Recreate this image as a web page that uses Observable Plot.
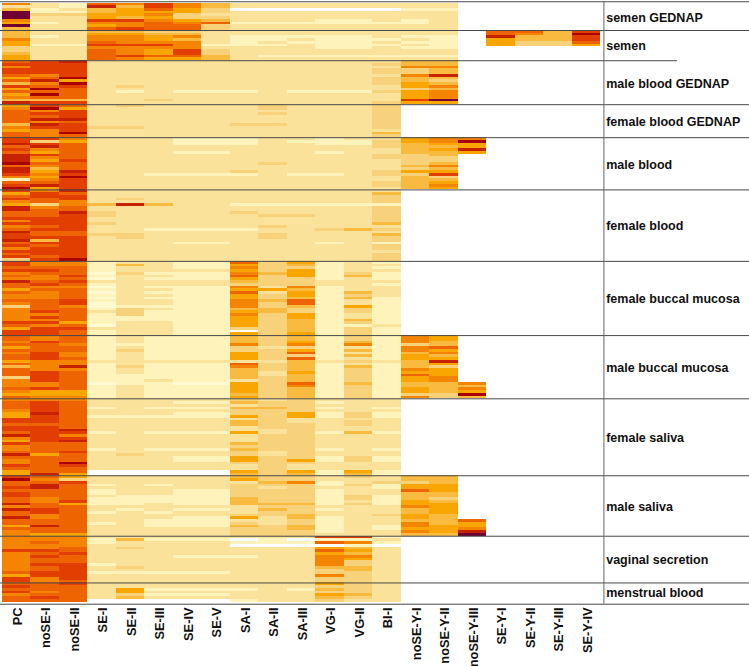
<!DOCTYPE html>
<html>
<head>
<meta charset="utf-8">
<script src="https://cdn.jsdelivr.net/npm/d3@7"></script>
<script src="https://cdn.jsdelivr.net/npm/@observablehq/plot@0.6"></script>
<style>html,body{margin:0;padding:0;background:#fff}svg{display:block}</style>
</head>
<body>
<div id="chart"></div>
<script>
const columnNames = ["PC","noSE-I","noSE-II","SE-I","SE-II","SE-III","SE-IV","SE-V","SA-I","SA-II","SA-III","VG-I","VG-II","BI-I","noSE-Y-I","noSE-Y-II","noSE-Y-III","SE-Y-I","SE-Y-II","SE-Y-III","SE-Y-IV"];
const groupNames = ["semen GEDNAP","semen","male blood GEDNAP","female blood GEDNAP","male blood","female blood","female buccal mucosa","male buccal mucosa","female saliva","male saliva","vaginal secretion","menstrual blood"];
const groupRows = [10,11,16,12,19,26,27,23,28,22,17,7];

// Each column: one string per sample group, one character per sample (expression level).
// A string shorter than its group holds its last level for the remaining samples; "." = not measured.
const PC = ["624bbb65b4","44465533455","7868875748575649","567777746577","889787999a79986178a","85786599778686798897868783","887867697757667636666687588","77675767757477736667657","6777655887887965866797668755","8a77878877969779775766","66666866666667588","7878677"];
const noSE_I = ["2211322122","22122122222","8888867967a7a748","8a6879698666","8389658657645656795","68877367778887877848788878","667876678676667777868686888","66877788866668888668556","6888898887888888777757777779","7679977766778866779775","66766878778778866","7776787"];
const noSE_II = ["1121322222","22222122222","988888a5a8777748","7588897888a7","65777777877798a8888","9788667798888887788888888a","667778787677778867777757877","77767766766967777777556","67777777777986897778777a8775","5387777778577777777775","66667787778888887","8777777"];
const SE_I = ["7944558657","45667867777","2","2222222232","2","222224223322322232","1111z1z21z1z1z1zz121111z211","11111111121111111z1","2221221222221222221222222200","2221211211122122212222","21122222221221222","2222220"];
const SE_II = ["6455548668","45666866686","2222222223212","3222222232","2","2223292222222222332","242232222222222213331122222","2221232222232211112","2222221222222222222232222200","2222222111121222222222","24223222222321222","2255340"];
const SE_III = ["8875656777","34556865575","2222222222222232","2","222222222222212","2222242222222212","22221212212121221211112","111111111211111121","2221221222221222221222222200","2221222111222122111222","212222222222212","2212120"];
const SE_IV = ["6655335677","34646668875","22222222222122","2","111221222222212","222222222222221222212","1112111221","11111111121111111z1","2121211222221222221221122200","2222211111121221111222","212222212222212","2212120"];
const SE_V = ["4433234733","22222123344","22222222222122","2","111221222222212","222222222222221222212","1112111221","11111111121111111z1","2121211222221222221221122200","2222211111121221111222","212222212222212","2212120"];
const SA_I = ["2202222122","22111122222","22222222222122","222222232","111222222222312","2222212232222212","756567543657556664565555305","44463355527644442555545","3424335244225222434335532254","4523333344422235234333","201022212","2212221"];
const SA_II = ["2202222122","22112122212","2","332322232","22222222232","2222212223222322332","333343333252334334433","3333233332333223","2334333333322333333223","3343233333434332223333","21102","2"];
const SA_III = ["2202222122","22121222212","22222222222122","2","212222222222212","22222122232","543555333645547743355444445","44563573744445444764","3333355223333333333333532254","3363333333433344334433","20102","22122"];
const VG_I = ["2202221122","22111112212","22222222222122","2","111221222222212","222221222222223222212","1111111221","11111111121","2121211222221222221221122211","2211211111121221111112","81705756666433633","5343543"];
const VG_II = ["2202221122","22111112212","22222222222122","2","2112","2222212222222242","2222342222243422533224313","3346242423243333343","2222233233224222222223322254","322322233232","81614546533443","3333432"];
const BI_I = ["2202222122","22212122212","2323323332232223","333333333243","2333223322223322332","24333133333342324331332333","1212111212222111111111121","11111111121","2221211222221222221221122211","2231122111122232221122","12102","2"];
const noSE_Y_I = ["2212221122","22121212212","4463364455355585",".","5544443333435344444",".",".","66636645544465755445536",".","4435574445564455466564",".","."];
const noSE_Y_II = ["2212222222","22111112212","44644943464666b5",".","6654544334645834565",".",".","55447564595355566444433",".","4445554434555544445554",".","."];
const noSE_Y_III = [".",".",".",".","6a5595.",".",".",".................6465a4",".","................75569b",".","."];
const SE_Y_I = [".","779555.",".",".",".",".",".",".",".",".",".","."];
const SE_Y_II = [".","764433.",".",".",".",".",".",".",".",".",".","."];
const SE_Y_III = [".","444433.",".",".",".",".",".",".",".",".",".","."];
const SE_Y_IV = [".","8a8875.",".",".",".",".",".",".",".",".",".","."];
const columnValues = [PC,noSE_I,noSE_II,SE_I,SE_II,SE_III,SE_IV,SE_V,SA_I,SA_II,SA_III,VG_I,VG_II,BI_I,noSE_Y_I,noSE_Y_II,noSE_Y_III,SE_Y_I,SE_Y_II,SE_Y_III,SE_Y_IV];

const levels = ["0","z","1","2","3","4","5","6","7","8","9","a","b"];
const levelColors = ["#ffffff","#fffad2","#fef3ba","#fbe29b","#f8d27b","#f9bb3f","#f9a603","#f58500","#ed6400","#e13e00","#c62200","#a80000","#6f0032"];

const groupStart = [];
groupRows.reduce((s, n, i) => (groupStart[i] = s, s + n), 0);
const totalRows = d3.sum(groupRows);

const cells = [];
columnValues.forEach((col, c) => {
  col.forEach((text, g) => {
    for (let i = 0; i < groupRows[g]; i++) {
      const level = text[Math.min(i, text.length - 1)];
      if (level !== ".") cells.push({col: c, row: groupStart[g] + i, level});
    }
  });
});

const separators = groupStart.slice(1).filter(s => s !== groupStart[2]);
const plot = Plot.plot({
  width: 749,
  height: 666,
  marginTop: 0, marginLeft: 0, marginRight: 0, marginBottom: 62,
  style: {background: "#fff"},
  x: {domain: [0, 21], range: [1.5, 600]},
  y: {domain: [0, totalRows], range: [2.5, 601.7], axis: null},
  color: {type: "ordinal", domain: levels, range: levelColors},
  marks: [
    Plot.rect(cells, {x1: "col", x2: d => d.col + 1, y1: "row", y2: d => d.row + 1, fill: "level", shapeRendering: "crispEdges"}),
    Plot.ruleY([-0.45, ...separators, totalRows + 0.73], {x1: -0.06, x2: 26.3, stroke: "#484848", strokeWidth: 1}),
    Plot.ruleY([groupStart[2]], {x1: -0.06, x2: 23.7, stroke: "#484848", strokeWidth: 1}),
    Plot.ruleX([21.12], {y1: -0.45, y2: totalRows + 0.73, stroke: "#666", strokeWidth: 1}),
    Plot.text(groupNames, {
      x: 21.2,
      y: (d, i) => groupStart[i] + groupRows[i] / 2,
      dy: 0.8,
      text: d => d,
      textAnchor: "start",
      fontSize: 12.5,
      fontWeight: "bold",
      fontFamily: "'Liberation Sans', Arial, sans-serif",
      fill: "#111"
    }),
    Plot.axisX(columnNames.map((d, i) => i + 0.5), {
      anchor: "bottom",
      label: null,
      tickSize: 0,
      tickPadding: 3,
      tickRotate: -90,
      tickFormat: d => columnNames[d - 0.5],
      dx: 1.5,
      fontSize: 12.8,
      fontWeight: "bold",
      fontFamily: "'Liberation Sans', Arial, sans-serif",
      fill: "#111"
    })
  ]
});
document.getElementById("chart").appendChild(plot);
</script>
</body>
</html>
